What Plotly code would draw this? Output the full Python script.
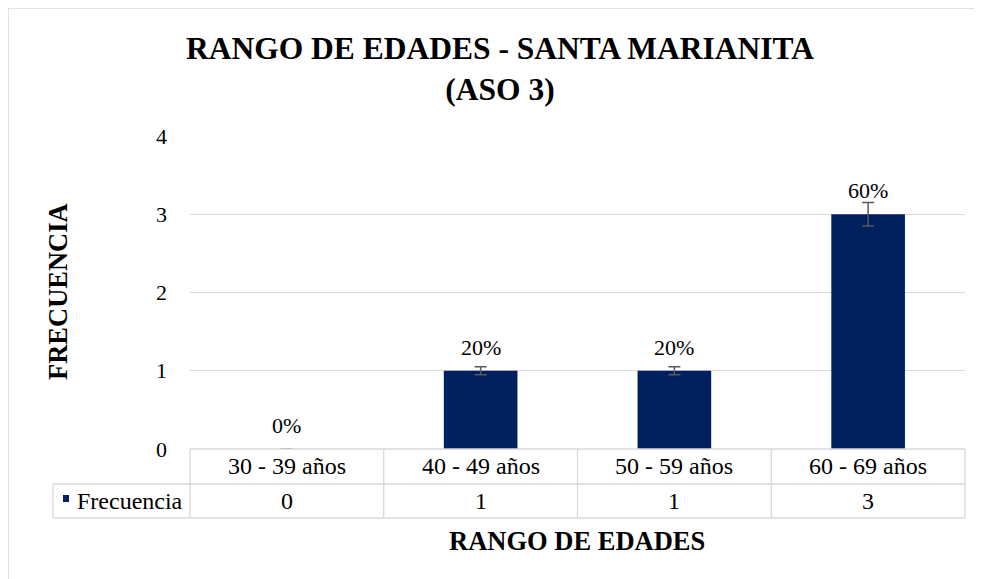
import plotly.graph_objects as go

categories = ["30 - 39 años", "40 - 49 años", "50 - 59 años", "60 - 69 años"]
frecuencia = [0, 1, 1, 3]
pct_labels = ["0%", "20%", "20%", "60%"]
series_name = "Frecuencia"
y_ticks = [0, 1, 2, 3, 4]

# page offset (browser default body margin)
OX, OY = 8, 8
W, H = 982 - OX, 579 - OY
L, R, T, B = 190 - OX, 17, 136 - OY, 130
PW = W - L - R
PH = H - T - B
FONT = "Liberation Serif"
NAVY = "#002060"
GRID = "#d9d9d9"


def px_x(px):
    # px in reference-page coordinates
    return (px - OX - L) / PW


def px_y(py):
    return (H - B - (py - OY)) / PH


fig = go.Figure()
fig.add_trace(go.Bar(
    x=categories, y=frecuencia, name=series_name,
    marker=dict(color=NAVY, line=dict(width=0)),
    width=0.38,
    error_y=dict(type="percent", value=5, color="#595959", thickness=1.5, width=6),
    showlegend=False,
))

annotations = []
lblfont = dict(family=FONT, size=22, color="#000")
tblfont = dict(family=FONT, size=24, color="#000")
# data labels
for c, v, t in zip(categories, frecuencia, pct_labels):
    annotations.append(dict(x=c, y=v, xref="x", yref="y", text=t, showarrow=False,
                            xanchor="center", yanchor="bottom", yshift=9, font=lblfont))

# data table
row_top = 0
row_mid = px_y(484)
row_bot = px_y(518)
leg_left = px_x(53)
n = len(categories)
shapes = []
line = dict(color=GRID, width=1.3)
shapes.append(dict(type="line", xref="paper", yref="paper", x0=0, x1=1, y0=row_top, y1=row_top, line=line))
shapes.append(dict(type="line", xref="paper", yref="paper", x0=leg_left, x1=1, y0=row_mid, y1=row_mid, line=line))
shapes.append(dict(type="line", xref="paper", yref="paper", x0=leg_left, x1=1, y0=row_bot, y1=row_bot, line=line))
shapes.append(dict(type="line", xref="paper", yref="paper", x0=leg_left, x1=leg_left, y0=row_mid, y1=row_bot, line=line))
for i in range(n + 1):
    xv = i / n
    shapes.append(dict(type="line", xref="paper", yref="paper", x0=xv, x1=xv, y0=row_top, y1=row_bot, line=line))

for i, (c, v) in enumerate(zip(categories, frecuencia)):
    xc = (i + 0.5) / n
    annotations.append(dict(x=xc, y=(row_top + row_mid) / 2, xref="paper", yref="paper", text=c,
                            showarrow=False, xanchor="center", yanchor="middle", font=tblfont))
    annotations.append(dict(x=xc, y=(row_mid + row_bot) / 2, xref="paper", yref="paper", text=str(v),
                            showarrow=False, xanchor="center", yanchor="middle", font=tblfont))

# legend key in table
shapes.append(dict(type="rect", xref="paper", yref="paper", x0=px_x(63), x1=px_x(69),
                   y0=px_y(502), y1=px_y(495), fillcolor=NAVY, line=dict(width=0)))
annotations.append(dict(x=px_x(75), y=(row_mid + row_bot) / 2, xref="paper", yref="paper",
                        text=series_name, showarrow=False, xanchor="left", yanchor="middle",
                        font=tblfont))

# axis titles
annotations.append(dict(x=px_x(577), y=px_y(541), xref="paper", yref="paper", text="<b>RANGO DE EDADES</b>",
                        showarrow=False, xanchor="center", yanchor="middle",
                        font=dict(family=FONT, size=26.5, color="#000")))
annotations.append(dict(x=px_x(58), y=px_y(292), xref="paper", yref="paper", text="<b>FRECUENCIA</b>",
                        showarrow=False, textangle=-90, xanchor="center", yanchor="middle",
                        font=dict(family=FONT, size=26.5, color="#000")))
# title
annotations.append(dict(x=px_x(500), y=px_y(69), xref="paper", yref="paper",
                        text="<b>RANGO DE EDADES - SANTA MARIANITA</b><br><b>(ASO 3)</b>",
                        showarrow=False, xanchor="center", yanchor="middle",
                        font=dict(family=FONT, size=31.5, color="#000")))

# chart frame (left and top edges)
frame = dict(color="#d9d9d9", width=1.5)
shapes.append(dict(type="line", xref="paper", yref="paper", x0=px_x(8), x1=px_x(1000),
                   y0=px_y(8), y1=px_y(8), line=frame))
shapes.append(dict(type="line", xref="paper", yref="paper", x0=px_x(8), x1=px_x(8),
                   y0=px_y(8), y1=px_y(600), line=frame))

fig.update_layout(
    width=W, height=H, autosize=False,
    margin=dict(l=L, r=R, t=T, b=B, pad=0),
    paper_bgcolor="white", plot_bgcolor="white",
    font=dict(family=FONT, size=22, color="#000"),
    xaxis=dict(type="category", range=[-0.5, n - 0.5], showticklabels=False, showgrid=False,
               zeroline=False, showline=False, ticks=""),
    yaxis=dict(range=[0, 4], tickvals=y_ticks, showgrid=True, gridcolor=GRID, gridwidth=1.3,
               zeroline=False, showline=False, ticks="", ticklabelstandoff=22,
               tickfont=dict(family=FONT, size=22, color="#000")),
    shapes=shapes, annotations=annotations, bargap=0.62,
)

fig.write_html("out.html")
